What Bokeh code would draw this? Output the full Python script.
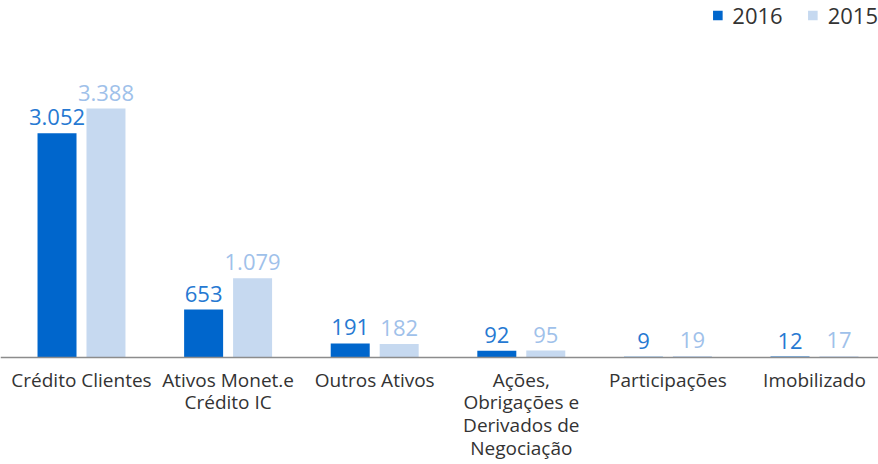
import numpy as np
from bokeh.plotting import figure
from bokeh.models import ColumnDataSource, Range1d, Legend, LegendItem, Span
from bokeh.core.properties import value
from bokeh.embed import file_html
from bokeh.resources import INLINE

# ---- data ----
categories = ["Crédito Clientes", "Ativos Monet.e\nCrédito IC", "Outros Ativos",
              "Ações,\nObrigações e\nDerivados de\nNegociação", "Participações", "Imobilizado"]
series_names = ["2016", "2015"]
values_2016 = [3052, 653, 191, 92, 9, 12]
values_2015 = [3388, 1079, 182, 95, 19, 17]

def fmt(v):
    return f"{v:,}".replace(",", ".")

FONT = "Open Sans"
C2016 = "#0066cc"
C2015 = "#c6d9f0"
T2016 = "#2679d2"
T2015 = "#9fc1ea"

x = np.arange(len(categories))
off = 0.167
bw = 0.266

src16 = ColumnDataSource(dict(x=x - off, top=values_2016, lab=[fmt(v) for v in values_2016]))
src15 = ColumnDataSource(dict(x=x + off, top=values_2015, lab=[fmt(v) for v in values_2015]))
srccat = ColumnDataSource(dict(x=x, y=[0] * len(categories), lab=categories))

W, H = 878, 464
px_per_group = 146.6
first_center = 81
base_px = 357
scale = 249 / 3388.0

p = figure(width=W, height=H, output_backend="svg", toolbar_location=None,
           x_range=Range1d(-first_center / px_per_group, (W - first_center) / px_per_group),
           y_range=Range1d(-(H - base_px) / scale, base_px / scale),
           min_border=0)
p.outline_line_color = None
p.xgrid.visible = False
p.ygrid.visible = False
p.xaxis.visible = False
p.yaxis.visible = False
p.background_fill_color = "white"
p.border_fill_color = "white"

r16 = p.vbar(x="x", top="top", width=bw, source=src16, fill_color=C2016, line_color=None)
r15 = p.vbar(x="x", top="top", width=bw, source=src15, fill_color=C2015, line_color=None)

p.add_layout(Span(location=0, dimension="width", line_color="#8c8c8c", line_width=1.5))

p.text(x="x", y="top", text="lab", source=src16, text_align="center",
       text_baseline="alphabetic", y_offset=-16, text_font=value(FONT),
       text_font_size="22px", text_color=T2016)
p.text(x="x", y="top", text="lab", source=src15, text_align="center",
       text_baseline="alphabetic", y_offset=-16, text_font=value(FONT),
       text_font_size="22px", text_color=T2015)

p.text(x="x", y="y", text="lab", source=srccat, text_align="center",
       text_baseline="top", y_offset=9, text_font=value(FONT),
       text_font_size="19px", text_color="#333333", text_line_height=0.88)

legend = Legend(items=[LegendItem(label=series_names[0], renderers=[r16]),
                       LegendItem(label=series_names[1], renderers=[r15])],
                orientation="horizontal", location="top_right",
                label_text_font=FONT, label_text_font_size="22px",
                label_text_color="#333333", glyph_width=12, glyph_height=12,
                label_standoff=9, spacing=24, padding=2, margin=0,
                border_line_color=None, background_fill_alpha=0)
p.add_layout(legend)

open("out.html", "w").write(file_html(p, INLINE))
